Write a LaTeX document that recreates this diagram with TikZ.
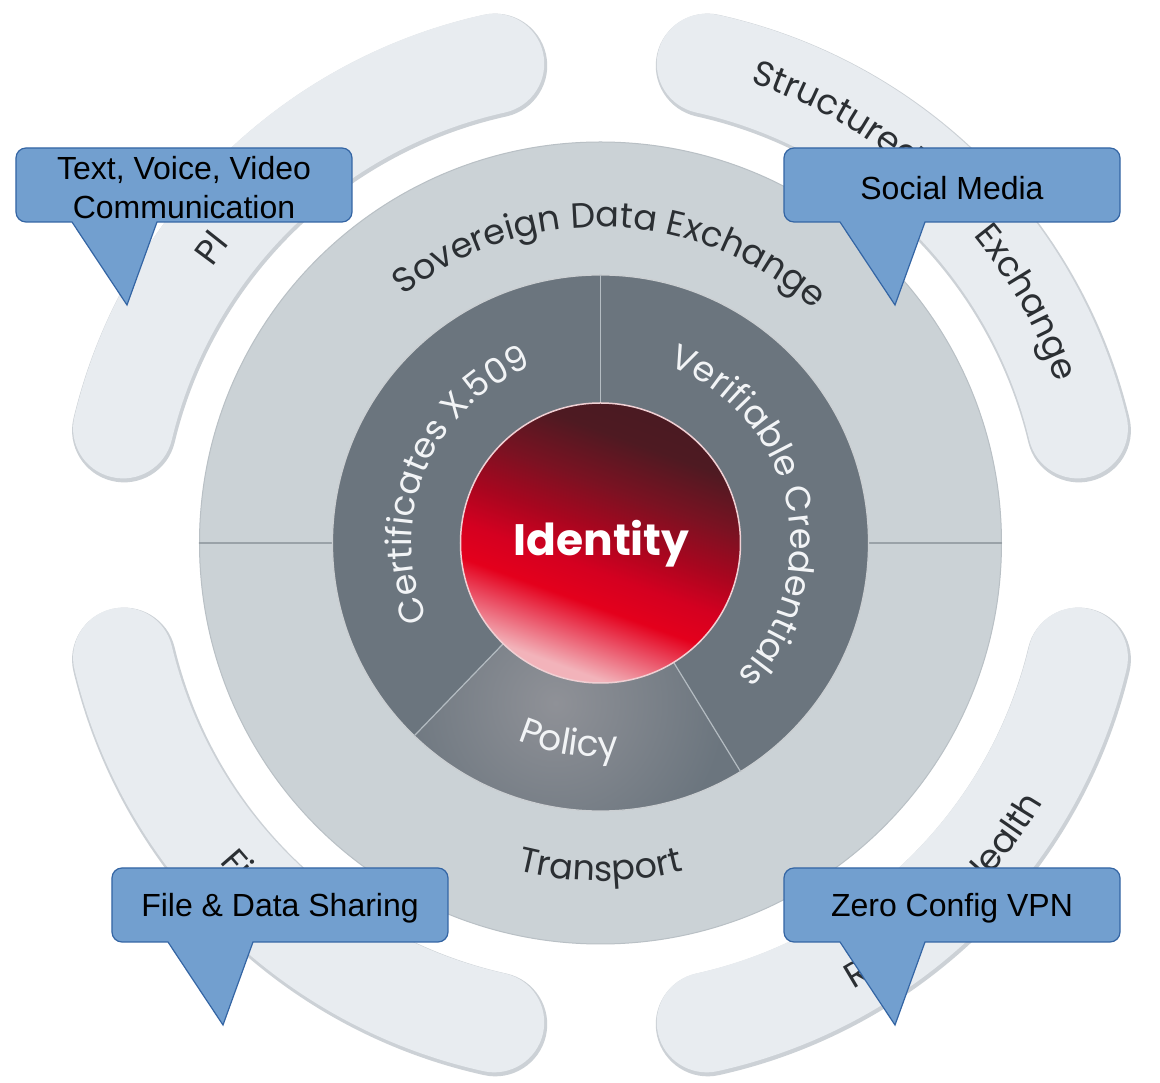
\documentclass[tikz,border=0pt]{standalone}
\usepackage{fontspec}
\setmainfont{Liberation Sans}
\newfontfamily\popf{Poppins}
\usetikzlibrary{decorations.text}
\definecolor{bandfill}{HTML}{E8ECF0}
\definecolor{bandedge}{HTML}{CCD1D6}
\definecolor{discfill}{HTML}{CBD2D6}
\definecolor{discedge}{HTML}{B9C0C5}
\definecolor{ringdark}{HTML}{6B757E}
\definecolor{polglow}{HTML}{8F9197}
\definecolor{sepline}{HTML}{9AA2A8}
\definecolor{innerline}{HTML}{B4BCC2}
\definecolor{callfill}{HTML}{729FCF}
\definecolor{calldraw}{HTML}{3465A4}
\definecolor{ringtext}{HTML}{2B2F33}
\definecolor{whitetext}{HTML}{F2F4F6}
\definecolor{idA}{HTML}{F2B3BA}
\definecolor{idB}{HTML}{EA4A60}
\definecolor{idC}{HTML}{E4001C}
\definecolor{idD}{HTML}{D40020}
\definecolor{idE}{HTML}{A8061F}
\definecolor{idF}{HTML}{7A1222}
\definecolor{idG}{HTML}{4E1A22}
\definecolor{idH}{HTML}{3A1A20}
\definecolor{idrim}{HTML}{F0D0D4}
\pgfdeclareverticalshading{idshade}{100bp}{color(0bp)=(idA); color(27bp)=(idA); color(34bp)=(idB); color(39bp)=(idC); color(45bp)=(idD); color(52bp)=(idE); color(60bp)=(idF); color(69bp)=(idG); color(100bp)=(idH)}
\newcommand\ringfont{\popf\fontsize{35}{40}\selectfont}
\newcommand\innerfont{\popf\fontsize{35}{40}\selectfont}
\newcommand\policyfont{\popf\fontsize{36}{40}\selectfont}
\newcommand\bandfont{\popf\fontsize{35}{40}\selectfont}
\tikzset{
  callout/.style={fill=callfill, draw=calldraw, line width=1.2pt},
  calltext/.style={align=center, text=black, font=\fontsize{32}{39}\selectfont, inner sep=0pt},
  sepstyle/.style={sepline, line width=1.6pt},
  innersep/.style={innerline, line width=1.2pt},
}
\newcommand{\mycallout}[4]{%
  \draw[callout] ({#1+10},#2) -- ({#1+326},#2) arc[start angle=90,end angle=0,radius=10]
   -- ({#1+336},{#2-64}) arc[start angle=0,end angle=-90,radius=10]
   -- ({#1+141},{#2-74}) -- ({#1+111},{#2-157}) -- ({#1+56},{#2-74})
   -- ({#1+10},{#2-74}) arc[start angle=270,end angle=180,radius=10]
   -- (#1,{#2-10}) arc[start angle=180,end angle=90,radius=10] -- cycle;
  \node[calltext] (#3) at ({#1+168},{#2-40}) {#4};
}
\newcommand{\band}[2]{%
  \draw[line width=104pt, line cap=round, bandedge] ([shift={(1,-2)}]#1:491) arc[start angle=#1,end angle=#2,radius=491];
  \draw[line width=100pt, line cap=round, bandfill] (#1:491) arc[start angle=#1,end angle=#2,radius=491];
}
\begin{document}
\begin{tikzpicture}[x=1pt,y=1pt]
\useasboundingbox (-600.5,-540) rectangle (559.5,543);
\fill[white] (-600.5,-540) rectangle (559.5,543);
% outer bands
\band{102.5}{166.5}
\band{77.5}{13.5}
\band{193.5}{257.5}
\band{282.5}{346.5}
% outer disc
\fill[discfill] (0,0) circle (401);
\draw[discedge, line width=1pt] (0,0) circle (401);
\draw[sepstyle] (-401,0) -- (-268,0);
\draw[sepstyle] (268,0) -- (401,0);
% dark ring
\fill[ringdark] (0,0) circle (268);
\begin{scope}
  \clip (226:140) -- (226:268) arc[start angle=226,end angle=301.5,radius=268] -- (301.5:140) arc[start angle=301.5,end angle=226,radius=140] -- cycle;
  \shade[inner color=polglow, outer color=ringdark] (-45,-160) circle (170);
\end{scope}
\draw[white!65!ringdark, line width=1.2pt] (0,0) circle (268);
\draw[innersep] (0,140) -- (0,268);
\draw[innersep] (226:140) -- (226:268);
\draw[innersep] (301.5:140) -- (301.5:268);
% identity core
\shade[shading=idshade, shading angle=-20] (0,0) circle (140);
\draw[idrim, line width=1.5pt] (0,0) circle (140);
\node[anchor=base, text=white, font=\popf\bfseries\fontsize{44}{50}\selectfont, inner sep=0pt] (identity) at (1,-13) {Identity};
% ring texts
\path[decorate, decoration={text along path, text align=center, text color=ringtext, text={|\ringfont|Sovereign Data Exchange}}] (150:316) arc[start angle=150,end angle=26,radius=316];
\path[decorate, decoration={text along path, text align=center, text color=ringtext, text={|\ringfont|Transport}}] (230:338) arc[start angle=230,end angle=310,radius=338];
\path[decorate, decoration={text along path, text align=center, text color=whitetext, text={|\innerfont|Certificates X.509}}] (217.5:189) arc[start angle=217.5,end angle=97.5,radius=189];
\path[decorate, decoration={text along path, text align=center, text color=whitetext, text={|\innerfont|Verifiable Credentials}}] (72.5:190) arc[start angle=72.5,end angle=-47.5,radius=190];
\path[decorate, decoration={text along path, text align=center, text color=whitetext, text={|\policyfont|Policy}}] (231:214) arc[start angle=231,end angle=291,radius=214];
% band texts
\path[decorate, decoration={text along path, text align=left, text color=ringtext, text={|\bandfont|Pl}}] (144.6:476) arc[start angle=144.6,end angle=115,radius=476];
\path[decorate, decoration={text along path, text align=left, text color=ringtext, text={|\bandfont|Structured}}] (72:484) arc[start angle=72,end angle=40,radius=484];
\path[decorate, decoration={text along path, text align=left, text color=ringtext, text={|\bandfont|Exchange}}] (39.5:483) arc[start angle=39.5,end angle=0,radius=483];
\path[decorate, decoration={text along path, text align=left, text color=ringtext, text={|\bandfont|Fi}}] (220:497) arc[start angle=220,end angle=250,radius=497];
\path[decorate, decoration={text along path, text align=left, text color=ringtext, text={|\bandfont|R}}] (-60.5:513) arc[start angle=-60.5,end angle=-40,radius=513];
\path[decorate, decoration={text along path, text align=left, text color=ringtext, text={|\bandfont|Health}}] (-43:513) arc[start angle=-43,end angle=0,radius=513];
% callouts
\mycallout{-584.5}{395}{c1}{Text, Voice, Video\\Communication}
\mycallout{183.5}{395}{c2}{Social Media}
\mycallout{-488.5}{-325}{c3}{File \& Data Sharing}
\mycallout{183.5}{-325}{c4}{Zero Config VPN}
\end{tikzpicture}
\end{document}
